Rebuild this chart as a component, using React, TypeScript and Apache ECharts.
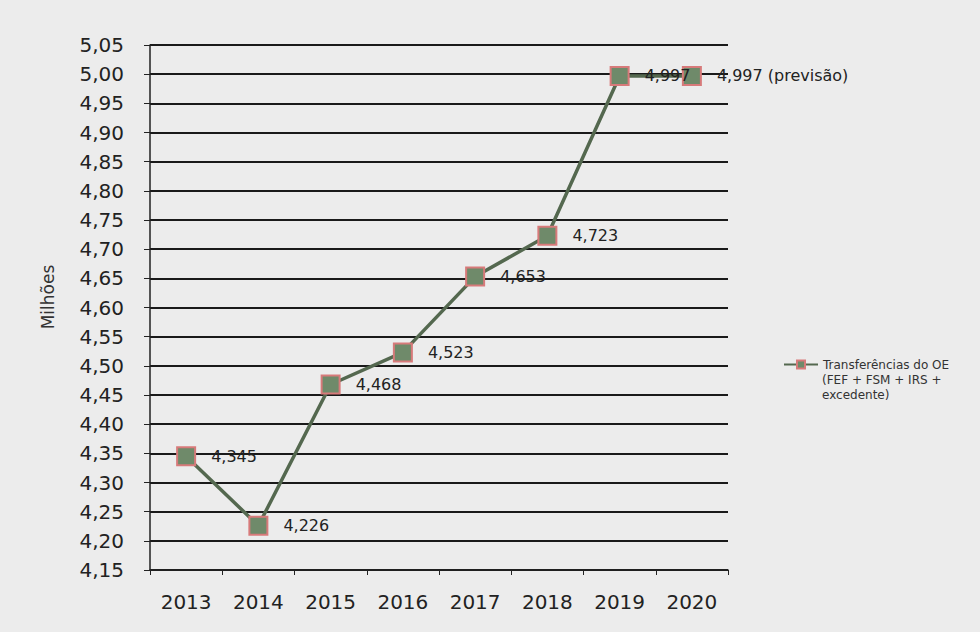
import React, { useEffect, useRef } from "react";
import * as echarts from "echarts";

const categories = ["2013", "2014", "2015", "2016", "2017", "2018", "2019", "2020"];
const values = [4.345, 4.226, 4.468, 4.523, 4.653, 4.723, 4.997, 4.997];
const labelTexts = ["4,345", "4,226", "4,468", "4,523", "4,653", "4,723", "4,997", "4,997 (previsão)"];
const seriesName = "Transferências do OE";
const legendExtraLines = ["(FEF + FSM + IRS +", "excedente)"];
const yAxisName = "Milhões";

export default function App() {
  const ref = useRef<HTMLDivElement>(null);
  useEffect(() => {
    const chart = echarts.init(ref.current!, null, { renderer: "svg" });
    const legendLeft = 778;
    const legendTop = 352;
    const textX = legendLeft + 5 + 34 + 5;
    const firstCenter = legendTop + 5 + 7.5;
    chart.setOption({
      animation: false,
      backgroundColor: "#ececec",
      textStyle: { fontFamily: "DejaVu Sans" },
      grid: { left: 150, right: 252, top: 45, bottom: 62 },
      legend: {
        left: legendLeft,
        top: legendTop,
        itemWidth: 34,
        itemHeight: 10,
        data: [{ name: seriesName }],
        textStyle: { fontSize: 12, color: "#333", lineHeight: 15, fontFamily: "DejaVu Sans" },
      },
      graphic: [
        {
          type: "text",
          x: 48,
          y: 297,
          rotation: Math.PI / 2,
          style: {
            text: yAxisName,
            fontSize: 17,
            fill: "#333",
            fontFamily: "DejaVu Sans",
            textAlign: "center",
            textVerticalAlign: "middle",
          },
        },
        ...legendExtraLines.map((t, i) => ({
          type: "text",
          x: textX,
          y: firstCenter + 15 * (i + 1),
          style: {
            text: t,
            fontSize: 12,
            fill: "#333",
            fontFamily: "DejaVu Sans",
            textAlign: "left",
            textVerticalAlign: "middle",
          },
        })),
      ],
      xAxis: {
        type: "category",
        data: categories,
        boundaryGap: true,
        axisLine: { lineStyle: { color: "#222", width: 1.5 } },
        axisTick: { show: true, length: 5, lineStyle: { color: "#222" } },
        axisLabel: { fontSize: 20, color: "#222", margin: 22 },
      },
      yAxis: {
        type: "value",
        min: 4.15,
        max: 5.05,
        interval: 0.05,
        axisLine: { show: true, lineStyle: { color: "#222", width: 1.5 } },
        axisTick: { show: true, length: 6, lineStyle: { color: "#222" } },
        axisLabel: {
          fontSize: 20,
          color: "#222",
          margin: 26,
          formatter: (v: number) => v.toFixed(2).replace(".", ","),
        },
        splitLine: { show: true, lineStyle: { color: "#1a1a1a", width: 2 } },
      },
      series: [
        {
          name: seriesName,
          type: "line",
          data: values,
          symbol: "rect",
          symbolSize: 18,
          lineStyle: { color: "#54684f", width: 3.5 },
          itemStyle: { color: "#6f8a6a", borderColor: "#d77a7a", borderWidth: 2 },
          label: {
            show: true,
            position: "right",
            distance: 15,
            fontSize: 16,
            color: "#222",
            formatter: (p: any) => labelTexts[p.dataIndex],
          },
        },
      ],
    });
    return () => chart.dispose();
  }, []);
  return (
    <div
      ref={ref}
      style={{ position: "fixed", left: 0, top: 0, width: 980, height: 632 }}
    />
  );
}
